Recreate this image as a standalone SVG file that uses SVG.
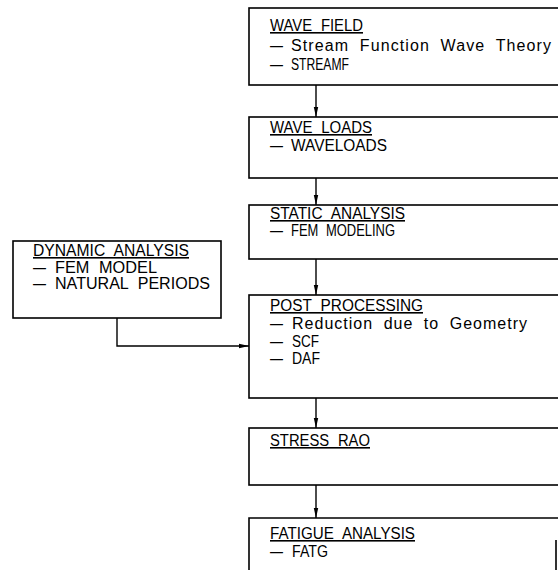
<svg xmlns="http://www.w3.org/2000/svg" width="558" height="570" viewBox="0 0 558 570">
<defs>
<style>
.box{fill:#fff;stroke:#000;stroke-width:1.6}
.t{font-family:"Liberation Sans",Arial,sans-serif;font-size:16px;fill:#000;word-spacing:5px}
.h{text-decoration:underline}
.c{fill:none;stroke:#000;stroke-width:1.4}
</style>
<marker id="ar" viewBox="0 0 10 6" refX="10" refY="3" markerWidth="10" markerHeight="6" markerUnits="userSpaceOnUse" orient="auto">
<path d="M0,0.8 L10,3 L0,5.2 Z" fill="#000"/>
</marker>
</defs>
<rect width="558" height="570" fill="#fff"/>
<g id="connectors">
<line class="c" x1="316" y1="85" x2="316" y2="117" marker-end="url(#ar)"/>
<line class="c" x1="316" y1="178" x2="316" y2="205" marker-end="url(#ar)"/>
<line class="c" x1="316" y1="259" x2="316" y2="295" marker-end="url(#ar)"/>
<line class="c" x1="316" y1="398" x2="316" y2="428" marker-end="url(#ar)"/>
<line class="c" x1="316" y1="485" x2="316" y2="518" marker-end="url(#ar)"/>
<polyline class="c" points="117,318 117,346 249,346" marker-end="url(#ar)"/>
</g>
<g id="wave-field">
<rect class="box" x="249" y="8" width="320" height="77"/>
<text class="t h" x="270" y="31" textLength="93" lengthAdjust="spacingAndGlyphs">WAVE FIELD</text>
<text class="t" x="270" y="51" textLength="13" lengthAdjust="spacingAndGlyphs">–</text>
<text class="t" x="291" y="51" textLength="260" lengthAdjust="spacing">Stream Function Wave Theory</text>
<text class="t" x="270" y="70" textLength="13" lengthAdjust="spacingAndGlyphs">–</text>
<text class="t" x="291" y="70" textLength="58" lengthAdjust="spacingAndGlyphs">STREAMF</text>
</g>
<g id="wave-loads">
<rect class="box" x="249" y="117" width="320" height="61"/>
<text class="t h" x="270" y="133" textLength="102" lengthAdjust="spacingAndGlyphs">WAVE LOADS</text>
<text class="t" x="270" y="151" textLength="13" lengthAdjust="spacingAndGlyphs">–</text>
<text class="t" x="291" y="151" textLength="96" lengthAdjust="spacingAndGlyphs">WAVELOADS</text>
</g>
<g id="static-analysis">
<rect class="box" x="249" y="205" width="320" height="54"/>
<text class="t h" x="270" y="219" textLength="135" lengthAdjust="spacingAndGlyphs">STATIC ANALYSIS</text>
<text class="t" x="270" y="236" textLength="13" lengthAdjust="spacingAndGlyphs">–</text>
<text class="t" x="291" y="236" textLength="104" lengthAdjust="spacingAndGlyphs">FEM MODELING</text>
</g>
<g id="dynamic-analysis">
<rect class="box" x="13" y="241" width="208" height="77"/>
<text class="t h" x="33" y="256" textLength="156" lengthAdjust="spacingAndGlyphs">DYNAMIC ANALYSIS</text>
<text class="t" x="33" y="273" textLength="13" lengthAdjust="spacingAndGlyphs">–</text>
<text class="t" x="55" y="273" textLength="102" lengthAdjust="spacingAndGlyphs">FEM MODEL</text>
<text class="t" x="33" y="289" textLength="13" lengthAdjust="spacingAndGlyphs">–</text>
<text class="t" x="55" y="289" textLength="155" lengthAdjust="spacingAndGlyphs">NATURAL PERIODS</text>
</g>
<g id="post-processing">
<rect class="box" x="249" y="295" width="320" height="103"/>
<text class="t h" x="270" y="311" textLength="153" lengthAdjust="spacingAndGlyphs">POST PROCESSING</text>
<text class="t" x="270" y="329" textLength="13" lengthAdjust="spacingAndGlyphs">–</text>
<text class="t" x="292" y="329" textLength="235" lengthAdjust="spacing">Reduction due to Geometry</text>
<text class="t" x="270" y="347" textLength="13" lengthAdjust="spacingAndGlyphs">–</text>
<text class="t" x="292" y="347" textLength="27" lengthAdjust="spacingAndGlyphs">SCF</text>
<text class="t" x="270" y="364" textLength="13" lengthAdjust="spacingAndGlyphs">–</text>
<text class="t" x="292" y="364" textLength="28" lengthAdjust="spacingAndGlyphs">DAF</text>
</g>
<g id="stress-rao">
<rect class="box" x="249" y="428" width="320" height="57"/>
<text class="t h" x="270" y="446" textLength="100" lengthAdjust="spacingAndGlyphs">STRESS RAO</text>
</g>
<g id="fatigue-analysis">
<path class="box" d="M249,580 L249,518 L560,518 M556,540 L556,580"/>
<text class="t h" x="270" y="539" textLength="145" lengthAdjust="spacingAndGlyphs">FATIGUE ANALYSIS</text>
<text class="t" x="270" y="557" textLength="13" lengthAdjust="spacingAndGlyphs">–</text>
<text class="t" x="292" y="557" textLength="36" lengthAdjust="spacingAndGlyphs">FATG</text>
</g>
</svg>
